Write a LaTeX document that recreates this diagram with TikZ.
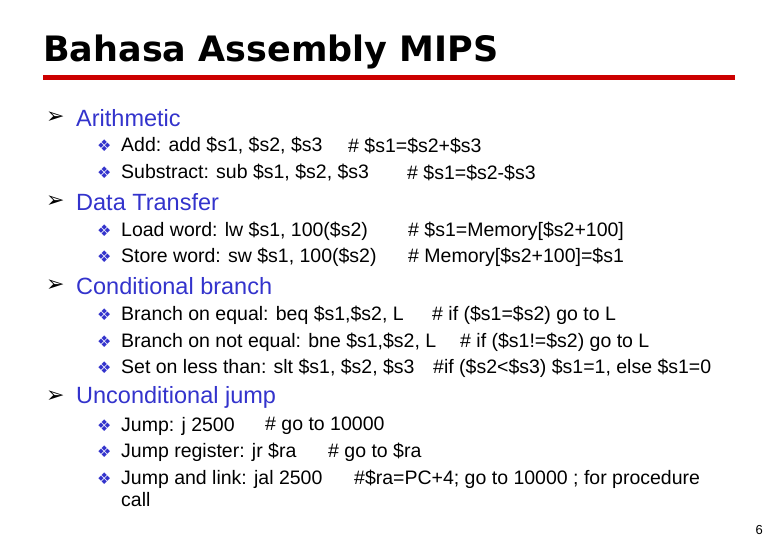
\documentclass[tikz,border=0pt]{standalone}
\usepackage{fontspec}
\setmainfont{Liberation Sans}
\newfontfamily\dv{DejaVu Sans}
\usetikzlibrary{positioning}
\definecolor{hd}{RGB}{51,51,204}
\definecolor{rl}{RGB}{204,0,0}
\begin{document}
\begin{tikzpicture}[x=1pt,y=-1pt,
  lv1/.style={anchor=west,inner sep=0,text=hd,font=\fontsize{23.5}{26}\selectfont},
  lv2/.style={anchor=west,inner sep=0,font=\fontsize{19.5}{22}\selectfont},
  bul/.style={anchor=west,inner sep=0,text=hd,font=\dv\fontsize{16}{18}\selectfont},
  mk/.style={anchor=west,inner sep=0,font=\dv\fontsize{22}{24}\selectfont}]
\useasboundingbox (0,0) rectangle (780,540);
\node[anchor=west,inner sep=0,font=\dv\bfseries\fontsize{35}{38}\selectfont] (t) at (43,52) {Bahasa Assembly MIPS};
\draw[rl,line width=5pt] (43,78) -- (735,78);
\foreach \n/\y/\s in {a/118/Arithmetic,b/202/Data Transfer,c/286/Conditional branch,d/397/Unconditional jump}{
  \node[mk] (m\n) at (46,\y) {➢};
  \node[lv1] (h\n) at (76,\y) {\s};}
\foreach \n/\y/\s in {a1/146/{Add: add \$s1, \$s2, \$s3},a2/173/{Substract: sub \$s1, \$s2, \$s3},
 b1/231/{Load word: lw \$s1, 100(\$s2)},b2/257/{Store word: sw \$s1, 100(\$s2)},
 c1/315/{Branch on equal: beq \$s1,\$s2, L},c2/342/{Branch on not equal: bne \$s1,\$s2, L},c3/368/{Set on less than: slt \$s1, \$s2, \$s3},
 d1/426/{Jump: j 2500},d2/452/{Jump register: jr \$ra},d3/479/{Jump and link: jal 2500}}{
  \node[bul] (u\n) at (97,\y) {❖};
  \node[lv2] (s\n) at (121,\y) {\s};}
\node[lv2] (ca1) at (348,146) {\# \$s1=\$s2+\$s3};
\node[lv2] (ca2) at (407,173) {\# \$s1=\$s2-\$s3};
\node[lv2] (cb1) at (408,231) {\# \$s1=Memory[\$s2+100]};
\node[lv2] (cb2) at (408,257) {\# Memory[\$s2+100]=\$s1};
\node[lv2] (cc1) at (432,315) {\# if (\$s1=\$s2) go to L};
\node[lv2] (cc2) at (460,342) {\# if (\$s1!=\$s2) go to L};
\node[lv2] (cc3) at (433,368) {\#if (\$s2<\$s3) \$s1=1, else \$s1=0};
\node[lv2] (cd1) at (265,426) {\# go to 10000};
\node[lv2] (cd2) at (328,452) {\# go to \$ra};
\node[lv2] (cd3) at (354,479) {\#\$ra=PC+4; go to 10000 ; for procedure};
\node[lv2] (call) at (121,500) {call};
\node[anchor=east,inner sep=0,font=\fontsize{13}{14}\selectfont] (pg) at (763,530) {6};
\end{tikzpicture}
\end{document}
